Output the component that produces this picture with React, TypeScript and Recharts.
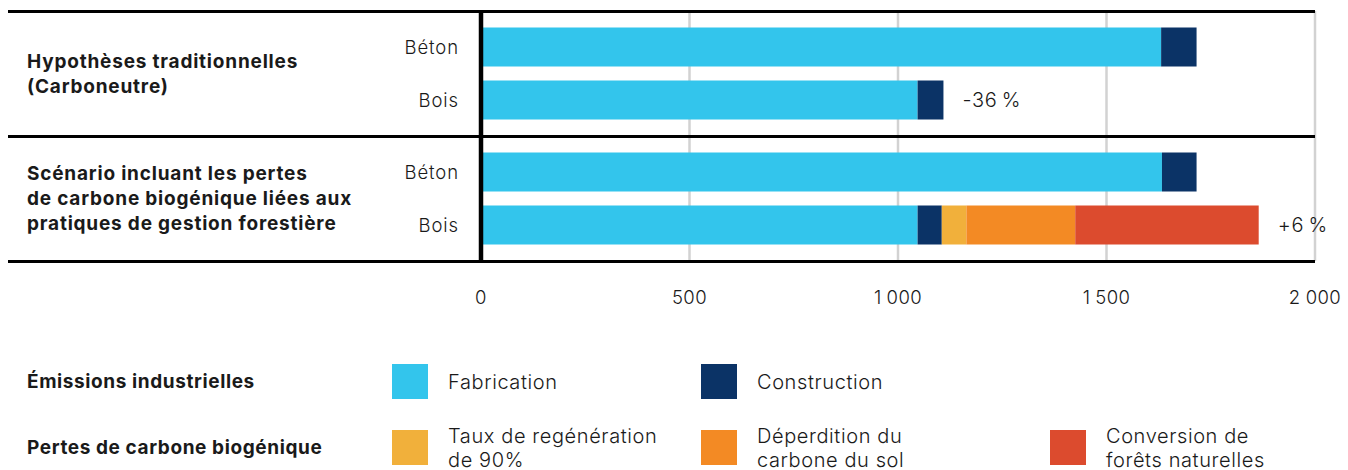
import React from "react";
import { BarChart, Bar, XAxis, YAxis, CartesianGrid, LabelList } from "recharts";

const categories = ["Béton", "Bois", "Béton", "Bois"];
const fabrication = [1631, 1047, 1633, 1047];
const construction = [85, 62, 83, 58];
const regeneration = [0, 0, 0, 59];
const deperdition = [0, 0, 0, 261];
const conversion = [0, 0, 0, 440];
const notes = ["", "-36\u2009%", "", "+6\u2009%"];

const groupTitles = [
  ["Hypothèses traditionnelles", "(Carboneutre)"],
  ["Scénario incluant les pertes", "de carbone biogénique liées aux", "pratiques de gestion forestière"],
];
const groupRows = [
  [0, 1],
  [2, 3],
];

const xTicks = [0, 500, 1000, 1500, 2000];
const xTickLabels = ["0", "500", "1\u2005000", "1\u2005500", "2\u2005000"];

const seriesNames = ["Fabrication", "Construction", "Taux de regénération de 90%", "Déperdition du carbone du sol", "Conversion de forêts naturelles"];
const colors = ["#33c5ec", "#0b3366", "#f1b03b", "#f38a24", "#dc4b2e"];

const legendGroups = ["Émissions industrielles", "Pertes de carbone biogénique"];
const legendItems = [
  { group: 0, col: 0, lines: ["Fabrication"], color: 0 },
  { group: 0, col: 1, lines: ["Construction"], color: 1 },
  { group: 1, col: 0, lines: ["Taux de regénération", "de 90%"], color: 2 },
  { group: 1, col: 1, lines: ["Déperdition du", "carbone du sol"], color: 3 },
  { group: 1, col: 2, lines: ["Conversion de", "forêts naturelles"], color: 4 },
];

const FONT = "Inter, 'Noto Sans', sans-serif";
const TEXT = "#1a1a1a";
const series = [fabrication, construction, regeneration, deperdition, conversion];
const keys = ["fabrication", "construction", "regeneration", "deperdition", "conversion"];

function buildRows(idx: number[]) {
  return idx.map((i) => ({
    cat: categories[i],
    fabrication: fabrication[i],
    construction: construction[i],
    regeneration: regeneration[i],
    deperdition: deperdition[i],
    conversion: conversion[i],
    note: notes[i],
  }));
}

const tickStyle = { fill: TEXT, fontSize: 18.5, fontFamily: FONT, fontWeight: 300, letterSpacing: 0.9 };

function GroupChart({ rows, showX }: { rows: number[]; showX: boolean }) {
  const data = buildRows(rows);
  const xh = showX ? 50 : 0;
  let labelSeries = 0;
  series.forEach((s, k) => {
    if (rows.some((r) => s[r] !== 0)) labelSeries = k;
  });
  return (
    <BarChart
      width={1348}
      height={125 + xh}
      data={data}
      layout="vertical"
      margin={{ top: 0, right: 33, bottom: 0, left: 381 }}
      style={{ fontFamily: FONT }}
    >
      <CartesianGrid horizontal={false} vertical stroke="#d2d2d2" strokeWidth={2.5} />
      <XAxis
        type="number"
        domain={[0, 2000]}
        ticks={xTicks}
        interval={0}
        height={xh}
        hide={!showX}
        axisLine={false}
        tickLine={false}
        tickSize={0}
        tickMargin={30}
        tickFormatter={(v: number) => xTickLabels[xTicks.indexOf(v)]}
        tick={{ ...tickStyle, letterSpacing: 0.4 }}
      />
      <YAxis
        type="category"
        dataKey="cat"
        width={100}
        padding={{ top: 9.5, bottom: 9.5 }}
        axisLine={{ stroke: "#000", strokeWidth: 4.5 }}
        tickLine={false}
        tickSize={0}
        tickMargin={22}
        tick={tickStyle}
      />
      {keys.map((k, i) => (
        <Bar
          key={k}
          dataKey={k}
          name={seriesNames[i]}
          stackId="s"
          fill={colors[i]}
          barSize={39}
          isAnimationActive={false}
        >
          {i === labelSeries ? (
            <LabelList
              dataKey="note"
              position="right"
              offset={19}
              style={{ ...tickStyle, fontSize: 20, letterSpacing: 0.7 }}
            />
          ) : null}
        </Bar>
      ))}
    </BarChart>
  );
}

const hLine = (top: number): React.CSSProperties => ({
  position: "absolute",
  left: 8,
  top: top - 1.5,
  width: 1307,
  height: 3,
  background: "#000",
});

export default function App() {
  const colX = [392, 701, 1050];
  const legendRowY = [364, 430];
  return (
    <div
      style={{
        position: "absolute",
        left: 0,
        top: 0,
        width: 1348,
        height: 470,
        background: "#fff",
        fontFamily: FONT,
        color: TEXT,
        overflow: "hidden",
      }}
    >
      <div style={{ position: "absolute", left: 0, top: 11 }}>
        <GroupChart rows={groupRows[0]} showX={false} />
      </div>
      <div style={{ position: "absolute", left: 0, top: 136 }}>
        <GroupChart rows={groupRows[1]} showX={true} />
      </div>
      <div style={hLine(11)} />
      <div style={hLine(136)} />
      <div style={hLine(261)} />
      {groupTitles.map((lines, g) => (
        <div
          key={g}
          style={{
            position: "absolute",
            left: 27,
            top: g === 0 ? 11 : 136,
            height: 125,
            display: "flex",
            flexDirection: "column",
            justifyContent: "center",
            fontWeight: 700,
            fontSize: 19,
            letterSpacing: 0.8,
            lineHeight: "25px",
            whiteSpace: "nowrap",
          }}
        >
          {lines.map((l, j) => (
            <div key={j}>{l}</div>
          ))}
        </div>
      ))}
      {legendGroups.map((t, g) => (
        <div
          key={t}
          style={{
            position: "absolute",
            left: 27,
            top: legendRowY[g],
            height: 35,
            display: "flex",
            alignItems: "center",
            fontWeight: 700,
            fontSize: 19,
            letterSpacing: 0.6,
            whiteSpace: "nowrap",
          }}
        >
          {t}
        </div>
      ))}
      {legendItems.map((it, i) => (
        <div key={i}>
          <div
            style={{
              position: "absolute",
              left: colX[it.col],
              top: legendRowY[it.group],
              width: 36,
              height: 35,
              background: colors[it.color],
            }}
          />
          <div
            style={{
              position: "absolute",
              left: colX[it.col] + 56,
              top: legendRowY[it.group] + 17.5 - (it.lines.length * 24) / 2,
              fontSize: 20,
              fontWeight: 300,
              letterSpacing: 0.6,
              lineHeight: "24px",
              whiteSpace: "nowrap",
            }}
          >
            {it.lines.map((l, j) => (
              <div key={j}>{l}</div>
            ))}
          </div>
        </div>
      ))}
    </div>
  );
}
